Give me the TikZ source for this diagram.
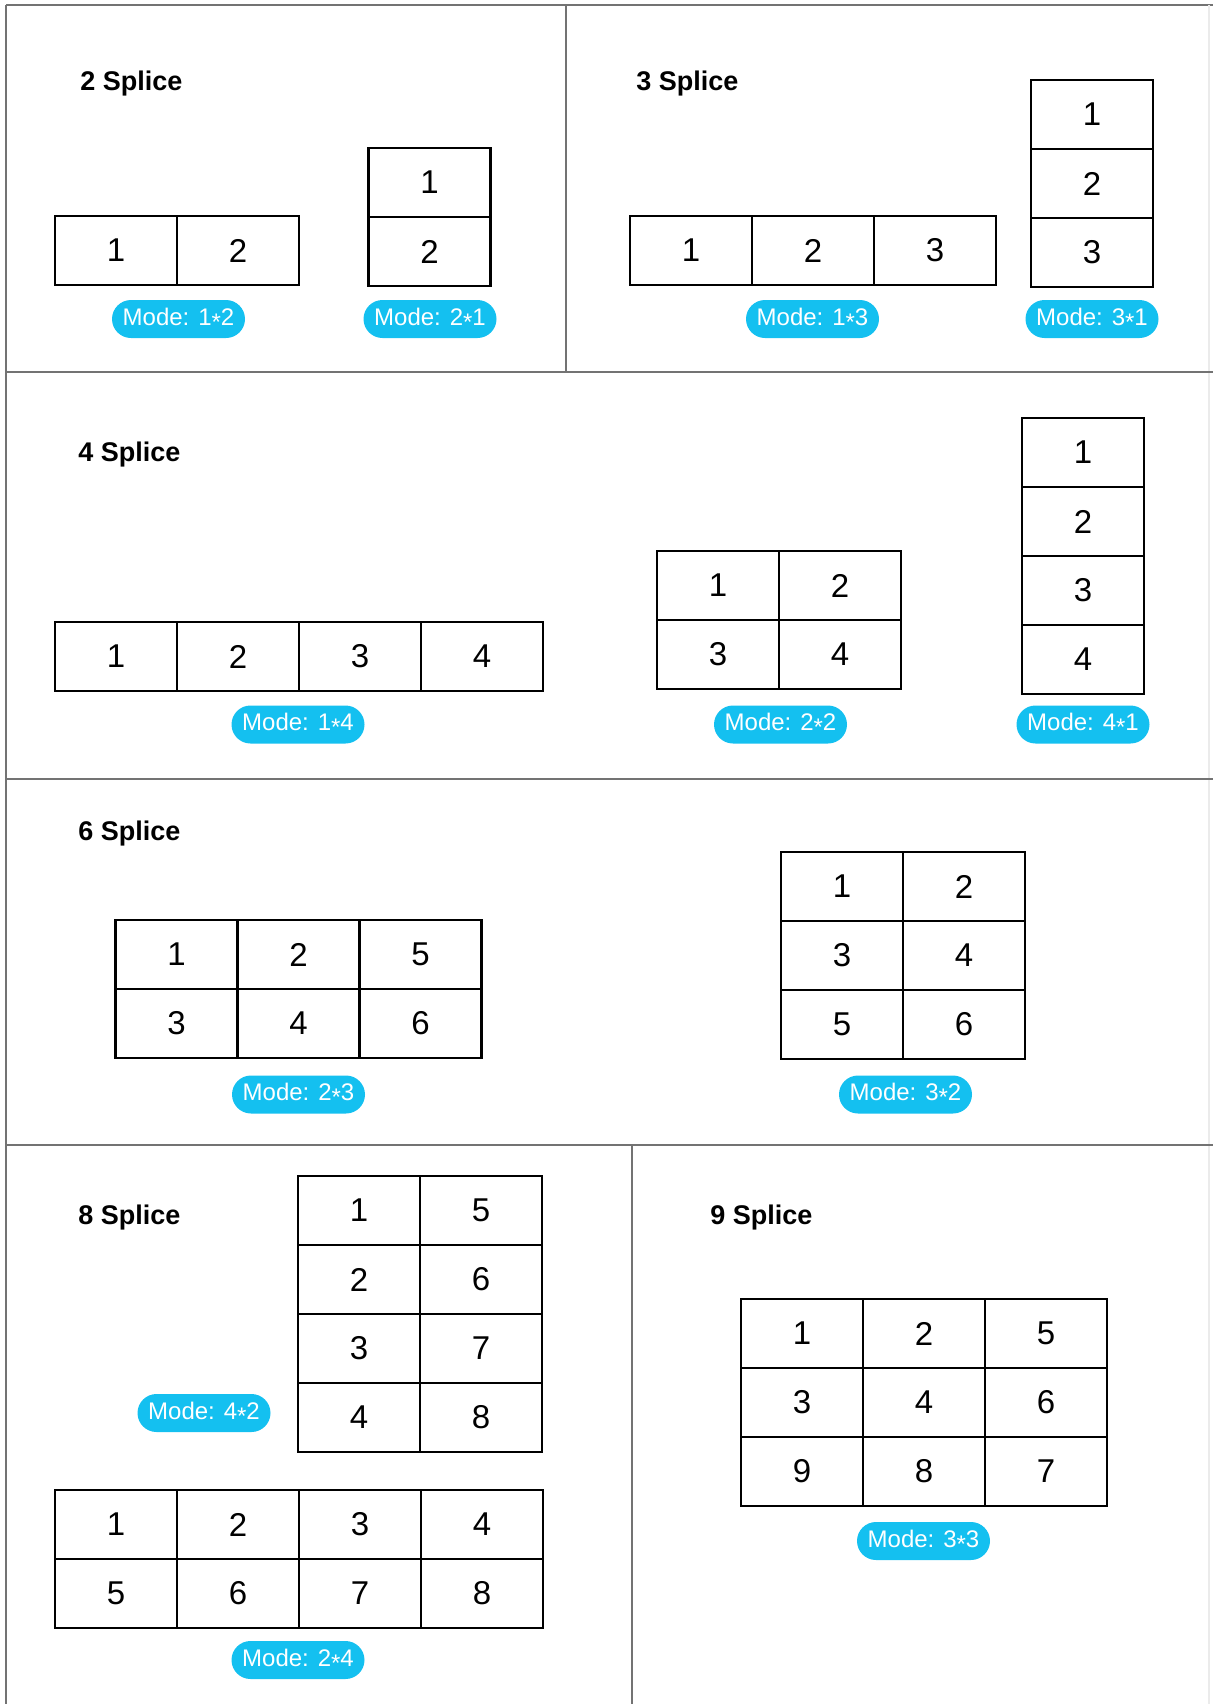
\documentclass[tikz,border=0pt]{standalone}
\usepackage{fontspec}
\setmainfont{Liberation Sans}
\definecolor{modeblue}{RGB}{20,192,240}
\newcommand\splx{\raisebox{-0.2em}{*}}
\begin{document}
\begin{tikzpicture}[x=0.5pt,y=-0.5pt,
  cell/.style={draw,line width=1.4pt,minimum width=61pt,minimum height=34.5pt,inner sep=0pt,font=\fontsize{16.5}{19}\selectfont},
  modetag/.style={fill=modeblue,text=white,rounded corners=9.5pt,minimum width=66.5pt,minimum height=19pt,inner sep=0pt,font=\fontsize{12}{14}\selectfont},
  headline/.style={anchor=base west,inner sep=0pt,font=\fontsize{13.5}{16}\selectfont\bfseries},
  panel/.style={black!55,line width=1pt}]
 \useasboundingbox (0,0) rectangle (1213,1704);
 % panels
    \draw[panel] (6,5) -- (1213,5);
    \draw[panel] (6,5) -- (6,1704);
    \draw[black!8,line width=1pt] (1209,5) -- (1209,1704);
    \draw[panel] (6,372) -- (1213,372);
    \draw[panel] (6,778.5) -- (1213,778.5);
    \draw[panel] (6,1145) -- (1213,1145);
    \draw[panel] (566,5) -- (566,372);
    \draw[panel] (632,1145) -- (632,1704);
 % 2 Splice
    \node[headline] (h2) at (80,90) {2 Splice};
    \foreach \n/\c/\r in {1/0/0,2/1/0}
      \node[cell] (m12-\n) at (116+122*\c,250.5+69*\r) {\n};
    \foreach \n/\c/\r in {1/0/0,2/0/1}
      \node[cell] (m21-\n) at (429.5+122*\c,182.5+69*\r) {\n};
    \node[modetag] (t12) at (178.5,319) {Mode: 1\splx2};
    \node[modetag] (t21) at (430,319) {Mode: 2\splx1};
 % 3 Splice
    \node[headline] (h3) at (636,90) {3 Splice};
    \foreach \n/\c/\r in {1/0/0,2/1/0,3/2/0}
      \node[cell] (m13-\n) at (691+122*\c,250.5+69*\r) {\n};
    \foreach \n/\c/\r in {1/0/0,2/0/1,3/0/2}
      \node[cell] (m31-\n) at (1092+122*\c,114.5+69*\r) {\n};
    \node[modetag] (t13) at (812.5,319) {Mode: 1\splx3};
    \node[modetag] (t31) at (1092,319) {Mode: 3\splx1};
 % 4 Splice
    \node[headline] (h4) at (78,461.5) {4 Splice};
    \foreach \n/\c/\r in {1/0/0,2/1/0,3/2/0,4/3/0}
      \node[cell] (m14-\n) at (116+122*\c,656.5+69*\r) {\n};
    \foreach \n/\c/\r in {1/0/0,2/1/0,3/0/1,4/1/1}
      \node[cell] (m22-\n) at (718+122*\c,585.5+69*\r) {\n};
    \foreach \n/\c/\r in {1/0/0,2/0/1,3/0/2,4/0/3}
      \node[cell] (m41-\n) at (1083+122*\c,452.5+69*\r) {\n};
    \node[modetag] (t14) at (298,724.5) {Mode: 1\splx4};
    \node[modetag] (t22) at (780.5,724.5) {Mode: 2\splx2};
    \node[modetag] (t41) at (1083,724.5) {Mode: 4\splx1};
 % 6 Splice
    \node[headline] (h6) at (78,840) {6 Splice};
    \foreach \n/\c/\r in {1/0/0,2/1/0,5/2/0,3/0/1,4/1/1,6/2/1}
      \node[cell] (m23-\n) at (176.5+122*\c,954.5+69*\r) {\n};
    \foreach \n/\c/\r in {1/0/0,2/1/0,3/0/1,4/1/1,5/0/2,6/1/2}
      \node[cell] (m32-\n) at (842+122*\c,886.5+69*\r) {\n};
    \node[modetag] (t23) at (298.5,1094.5) {Mode: 2\splx3};
    \node[modetag] (t32) at (905.5,1094.5) {Mode: 3\splx2};
 % 8 Splice
    \node[headline] (h8) at (78,1224) {8 Splice};
    \foreach \n/\c/\r in {1/0/0,5/1/0,2/0/1,6/1/1,3/0/2,7/1/2,4/0/3,8/1/3}
      \node[cell] (m42-\n) at (359+122*\c,1210.5+69*\r) {\n};
    \foreach \n/\c/\r in {1/0/0,2/1/0,3/2/0,4/3/0,5/0/1,6/1/1,7/2/1,8/3/1}
      \node[cell] (m24-\n) at (116+122*\c,1524.5+69*\r) {\n};
    \node[modetag] (t42) at (204,1413) {Mode: 4\splx2};
    \node[modetag] (t24) at (298,1660) {Mode: 2\splx4};
 % 9 Splice
    \node[headline] (h9) at (710,1224) {9 Splice};
    \foreach \n/\c/\r in {1/0/0,2/1/0,5/2/0,3/0/1,4/1/1,6/2/1,9/0/2,8/1/2,7/2/2}
      \node[cell] (m33-\n) at (802+122*\c,1333.5+69*\r) {\n};
    \node[modetag] (t33) at (923.5,1541) {Mode: 3\splx3};
\end{tikzpicture}
\end{document}
